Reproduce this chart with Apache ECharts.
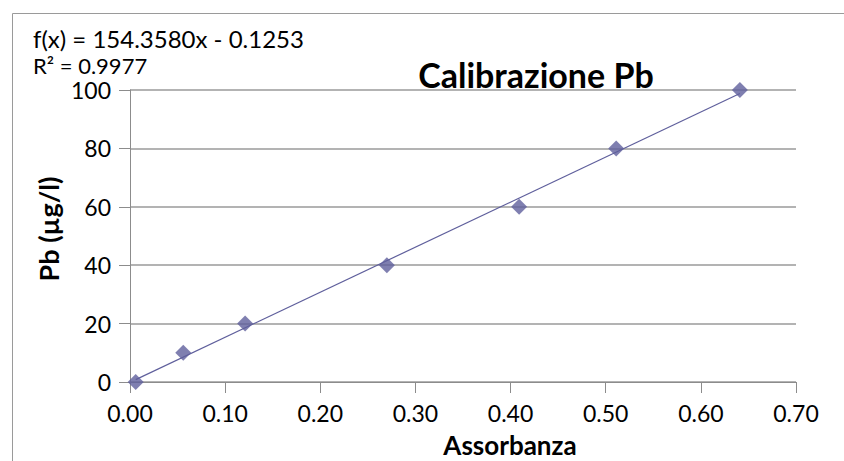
<!DOCTYPE html>
<html>
<head>
<meta charset="utf-8">
<script src="https://cdn.jsdelivr.net/npm/echarts@6/dist/echarts.min.js"></script>
<style>
  html, body { margin: 0; padding: 0; background: #fff; }
  #chart { width: 844px; height: 461px; }
</style>
</head>
<body>
<div id="chart"></div>
<script>
// measured points (absorbance vs concentration)
const absorbance = [0.006, 0.056, 0.121, 0.270, 0.409, 0.511, 0.641]
const concentration = [0, 10, 20, 40, 60, 80, 100]
// trendline as printed on the chart
const slope = 154.358
const intercept = -0.1253
const equationText = 'f(x) = 154.3580x - 0.1253'
const r2Text = 'R² = 0.9977'
const xTicks = { min: 0, max: 0.7, interval: 0.1 }
const yTicks = { min: 0, max: 100, interval: 20 }

const FONT = 'Lato, "Open Sans", sans-serif'
const markColor = '#5f5f9c'
const gray = '#9a9a9a'

const points = absorbance.map((x, i) => [x, concentration[i]])
const xLo = Math.min(...absorbance)
const xHi = Math.max(...absorbance)
const trend = [xLo, xHi].map(x => [x, slope * x + intercept])

const chart = echarts.init(document.getElementById('chart'), null, { renderer: 'svg' })
chart.setOption({
  backgroundColor: '#fff',
  animation: false,
  grid: { left: 130, right: 48, top: 90, bottom: 79 },
  xAxis: {
    type: 'value',
    min: xTicks.min, max: xTicks.max, interval: xTicks.interval,
    axisLine: { show: true, lineStyle: { color: '#8c8c8c', width: 1 } },
    axisTick: { show: true, length: 11, lineStyle: { color: '#8c8c8c' } },
    splitLine: { show: false },
    axisLabel: {
      margin: 19, color: '#000', fontFamily: FONT, fontSize: 23,
      formatter: v => v.toFixed(2)
    }
  },
  yAxis: {
    type: 'value',
    min: yTicks.min, max: yTicks.max, interval: yTicks.interval,
    axisLine: { show: true, lineStyle: { color: '#8c8c8c', width: 1 } },
    axisTick: { show: true, length: 11, lineStyle: { color: '#8c8c8c' } },
    splitLine: { show: true, lineStyle: { color: gray, width: 1.5 } },
    axisLabel: { margin: 19, color: '#000', fontFamily: FONT, fontSize: 23 }
  },
  graphic: [
    { type: 'rect', silent: true, z: -1,
      shape: { x: 12.5, y: 13.5, width: 1000, height: 600 },
      style: { fill: 'none', stroke: gray, lineWidth: 1 } },
    { type: 'text', x: 33, y: 38,
      style: { text: equationText, font: '24px ' + FONT, lineHeight: 24, fill: '#000', verticalAlign: 'middle' } },
    { type: 'text', x: 33, y: 65,
      style: { text: r2Text, font: '22px ' + FONT, lineHeight: 22, fill: '#000', verticalAlign: 'middle' } },
    { type: 'text', x: 536, y: 74,
      style: { text: 'Calibrazione Pb', font: 'bold 34px ' + FONT, fill: '#000', align: 'center', verticalAlign: 'middle' } },
    { type: 'text', x: 510, y: 445,
      style: { text: 'Assorbanza', font: 'bold 26px ' + FONT, fill: '#000', align: 'center', verticalAlign: 'middle' } },
    { type: 'text', x: 48, y: 229, rotation: Math.PI / 2,
      style: { text: 'Pb (µg/l)', font: 'bold 27px ' + FONT, fill: '#000', align: 'center', verticalAlign: 'middle' } }
  ],
  series: [
    {
      type: 'line',
      data: trend,
      symbol: 'none',
      lineStyle: { color: markColor, width: 1.2 },
      z: 2
    },
    {
      type: 'scatter',
      data: points,
      symbol: 'diamond',
      symbolSize: 16,
      itemStyle: { color: markColor },
      z: 3
    }
  ]
})
</script>
</body>
</html>
